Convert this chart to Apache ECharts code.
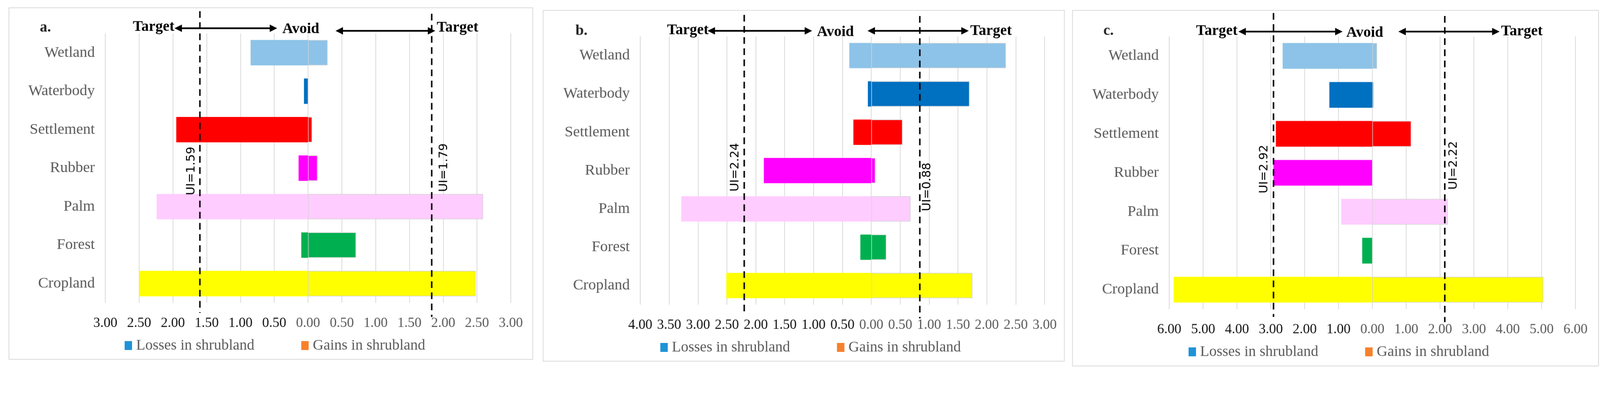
<!DOCTYPE html>
<html><head><meta charset="utf-8">
<script src="https://cdn.jsdelivr.net/npm/echarts@6/dist/echarts.min.js"></script>
<style>html,body{margin:0;padding:0;background:#fff;overflow:hidden}#c{width:4301px;height:1015px;transform-origin:0 0}</style>
</head><body><div id="c"></div>
<script>
// ---------- data ----------
const categories = ['Wetland', 'Waterbody', 'Settlement', 'Rubber', 'Palm', 'Forest', 'Cropland'];
const lossesA = [-0.85, -0.06, -1.95, -0.14, -2.24, -0.10, -2.50];
const gainsA  = [0.29, 0, 0.06, 0.14, 2.59, 0.71, 2.48];
const lossesB = [-0.38, -0.06, -0.31, -1.86, -3.29, -0.19, -2.51];
const gainsB  = [2.33, 1.70, 0.54, 0.07, 0.68, 0.26, 1.75];
const lossesC = [-2.65, -1.27, -2.85, -2.92, -0.92, -0.30, -5.87];
const gainsC  = [0.14, 0.04, 1.15, 0, 2.23, 0, 5.05];
const uiPosA = [-1.60, 1.83], uiTextA = ['UI=1.59', 'UI=1.79'];
const uiPosB = [-2.20, 0.84], uiTextB = ['UI=2.24', 'UI=0.88'];
const uiPosC = [-2.92, 2.14], uiTextC = ['UI=2.92', 'UI=2.22'];
const axisMin = [-3, -4, -6], axisMax = [3, 3, 6], axisStep = [0.5, 0.5, 1];
const panelLetters = ['a.', 'b.', 'c.'];
const seriesNames = ['Losses in shrubland', 'Gains in shrubland'];
const losses = [lossesA, lossesB, lossesC];
const gains = [gainsA, gainsB, gainsC];
const uiPos = [uiPosA, uiPosB, uiPosC];
const uiText = [uiTextA, uiTextB, uiTextC];

// ---------- fit the 4301x1015 design to the actual viewport ----------
const DESIGN_W = 4301, DESIGN_H = 1015;
const vw = window.innerWidth || DESIGN_W, vh = window.innerHeight || DESIGN_H;
const fit = Math.min(vw / DESIGN_W, vh / DESIGN_H);
document.getElementById('c').style.transform = 'scale(' + fit + ')';

// ---------- styles / layout ----------
const catColors = ['#8DC3E8', '#0070C0', '#FF0000', '#FF00FF', '#FFCCFF', '#00B050', '#FFFF00'];
const legendColors = ['#1F93D8', '#F7802C'];
const SERIF = '"Liberation Serif", "DejaVu Serif", serif';
const layout = [
  {grid: {left: 283, top: 90, width: 1090, height: 725}, box: [24, 21, 1408, 946], legendLeft: 335, legendTop: 910,
   letter: [107, 75], target1: [357, 73], arrow1: [469, 745, 76], avoid: [759, 79], arrow2: [902, 1170, 83], target2: [1174, 75],
   ui: [{y1: 30, y2: 842, dx: -23, ty: 460}, {y1: 37, y2: 853, dx: 33, ty: 451}]},
  {grid: {left: 1721, top: 98, width: 1087, height: 722}, box: [1460, 28, 1401, 944], legendLeft: 1775, legendTop: 915,
   letter: [1547, 84], target1: [1793, 82], arrow1: [1902, 2183, 83], avoid: [2196, 87], arrow2: [2332, 2604, 83], target2: [2608, 84],
   ui: [{y1: 40, y2: 848, dx: -24, ty: 450}, {y1: 43, y2: 857, dx: 20, ty: 503}]},
  {grid: {left: 3143, top: 98, width: 1092, height: 734}, box: [2883, 28, 1414, 957], legendLeft: 3195, legendTop: 927,
   letter: [2966, 84], target1: [3215, 84], arrow1: [3329, 3609, 85], avoid: [3619, 89], arrow2: [3759, 4031, 85], target2: [4035, 85],
   ui: [{y1: 35, y2: 853, dx: -25, ty: 455}, {y1: 43, y2: 867, dx: 24, ty: 445}]}
];

const chart = echarts.init(document.getElementById('c'), null, {renderer: 'canvas', width: DESIGN_W, height: DESIGN_H});

const grids = [], xAxes = [], yAxes = [], series = [], legends = [];
layout.forEach((L, i) => {
  grids.push(Object.assign({containLabel: false}, L.grid));
  xAxes.push({
    type: 'value', gridIndex: i, min: axisMin[i], max: axisMax[i], interval: axisStep[i],
    axisLine: {show: false}, axisTick: {show: false},
    splitLine: {show: true, lineStyle: {color: '#D9D9D9', width: 2}},
    axisLabel: {
      margin: 37, fontSize: 37, fontFamily: SERIF,
      color: (v) => (Number(v) < 0 ? '#111111' : '#595959'),
      formatter: (v) => Math.abs(v).toFixed(2)
    }
  });
  yAxes.push({
    type: 'category', gridIndex: i, data: categories, inverse: true,
    axisLine: {show: false}, axisTick: {show: false}, splitLine: {show: false},
    axisLabel: {margin: 28, fontSize: 41, fontFamily: SERIF, color: '#595959'}
  });
  series.push({
    type: 'bar', name: seriesNames[0], xAxisIndex: i, yAxisIndex: i,
    barWidth: '66%', barGap: '-100%',
    itemStyle: {color: legendColors[0]},
    data: losses[i].map((v, j) => ({value: v, itemStyle: {color: catColors[j]}}))
  });
  series.push({
    type: 'bar', name: seriesNames[1], xAxisIndex: i, yAxisIndex: i,
    barWidth: '66%', barGap: '-100%',
    itemStyle: {color: legendColors[1], borderColor: '#D4D4D4', borderWidth: 1.5},
    data: gains[i].map((v, j) => ({value: v, itemStyle: {color: catColors[j]}}))
  });
  legends.push({
    data: seriesNames, left: L.legendLeft, top: L.legendTop, orient: 'horizontal',
    padding: 0, itemGap: 126, itemWidth: 20, itemHeight: 24, icon: 'rect', selectedMode: false,
    textStyle: {fontSize: 40, fontFamily: SERIF, color: '#595959', lineHeight: 40, padding: [0, 0, 0, 6]},
    itemStyle: {borderWidth: 0}
  });
});

chart.setOption({
  animation: false,
  backgroundColor: '#ffffff',
  grid: grids, xAxis: xAxes, yAxis: yAxes, series: series, legend: legends
});

// ---------- annotations ----------
function txt(x, y, s, font, align, fill) {
  return {type: 'text', x: x, y: y, z: 20, silent: true,
    style: {text: s, font: font, fill: fill || '#000', textAlign: align || 'left', textVerticalAlign: 'middle'}};
}
function dblArrow(x1, x2, y) {
  const hl = 20, hh = 10;
  return [
    {type: 'line', z: 20, silent: true, shape: {x1: x1 + hl - 2, y1: y, x2: x2 - hl + 2, y2: y}, style: {stroke: '#000', lineWidth: 4.5}},
    {type: 'polygon', z: 20, silent: true, shape: {points: [[x1, y], [x1 + hl, y - hh], [x1 + hl, y + hh]]}, style: {fill: '#000'}},
    {type: 'polygon', z: 20, silent: true, shape: {points: [[x2, y], [x2 - hl, y - hh], [x2 - hl, y + hh]]}, style: {fill: '#000'}}
  ];
}
const gfx = [];
const F = 'bold 40px ' + SERIF;
layout.forEach((L, i) => {
  gfx.push({type: 'rect', z: 0, silent: true, shape: {x: L.box[0], y: L.box[1], width: L.box[2], height: L.box[3]},
    style: {fill: 'none', stroke: '#D9D9D9', lineWidth: 2}});
  gfx.push(txt(L.letter[0], L.letter[1], panelLetters[i], 'bold 40px ' + SERIF, 'left', '#222'));
  gfx.push(txt(L.target1[0], L.target1[1], 'Target', F));
  gfx.push(txt(L.avoid[0], L.avoid[1], 'Avoid', F));
  gfx.push(txt(L.target2[0], L.target2[1], 'Target', F));
  gfx.push(...dblArrow(L.arrow1[0], L.arrow1[1], L.arrow1[2]));
  gfx.push(...dblArrow(L.arrow2[0], L.arrow2[1], L.arrow2[2]));
  uiPos[i].forEach((v, k) => {
    const px = chart.convertToPixel({xAxisIndex: i}, v);
    const u = L.ui[k];
    gfx.push({type: 'line', z: 30, silent: true, shape: {x1: px, y1: u.y1, x2: px, y2: u.y2},
      style: {stroke: '#000', lineWidth: 4, lineDash: [18, 12]}});
    gfx.push({type: 'text', z: 30, silent: true, x: px + u.dx, y: u.ty, rotation: Math.PI / 2,
      style: {text: uiText[i][k], font: '32px "DejaVu Sans", sans-serif', fill: '#000', textAlign: 'center', textVerticalAlign: 'middle'}});
  });
});
chart.setOption({graphic: {elements: gfx}});
</script>
</body></html>
